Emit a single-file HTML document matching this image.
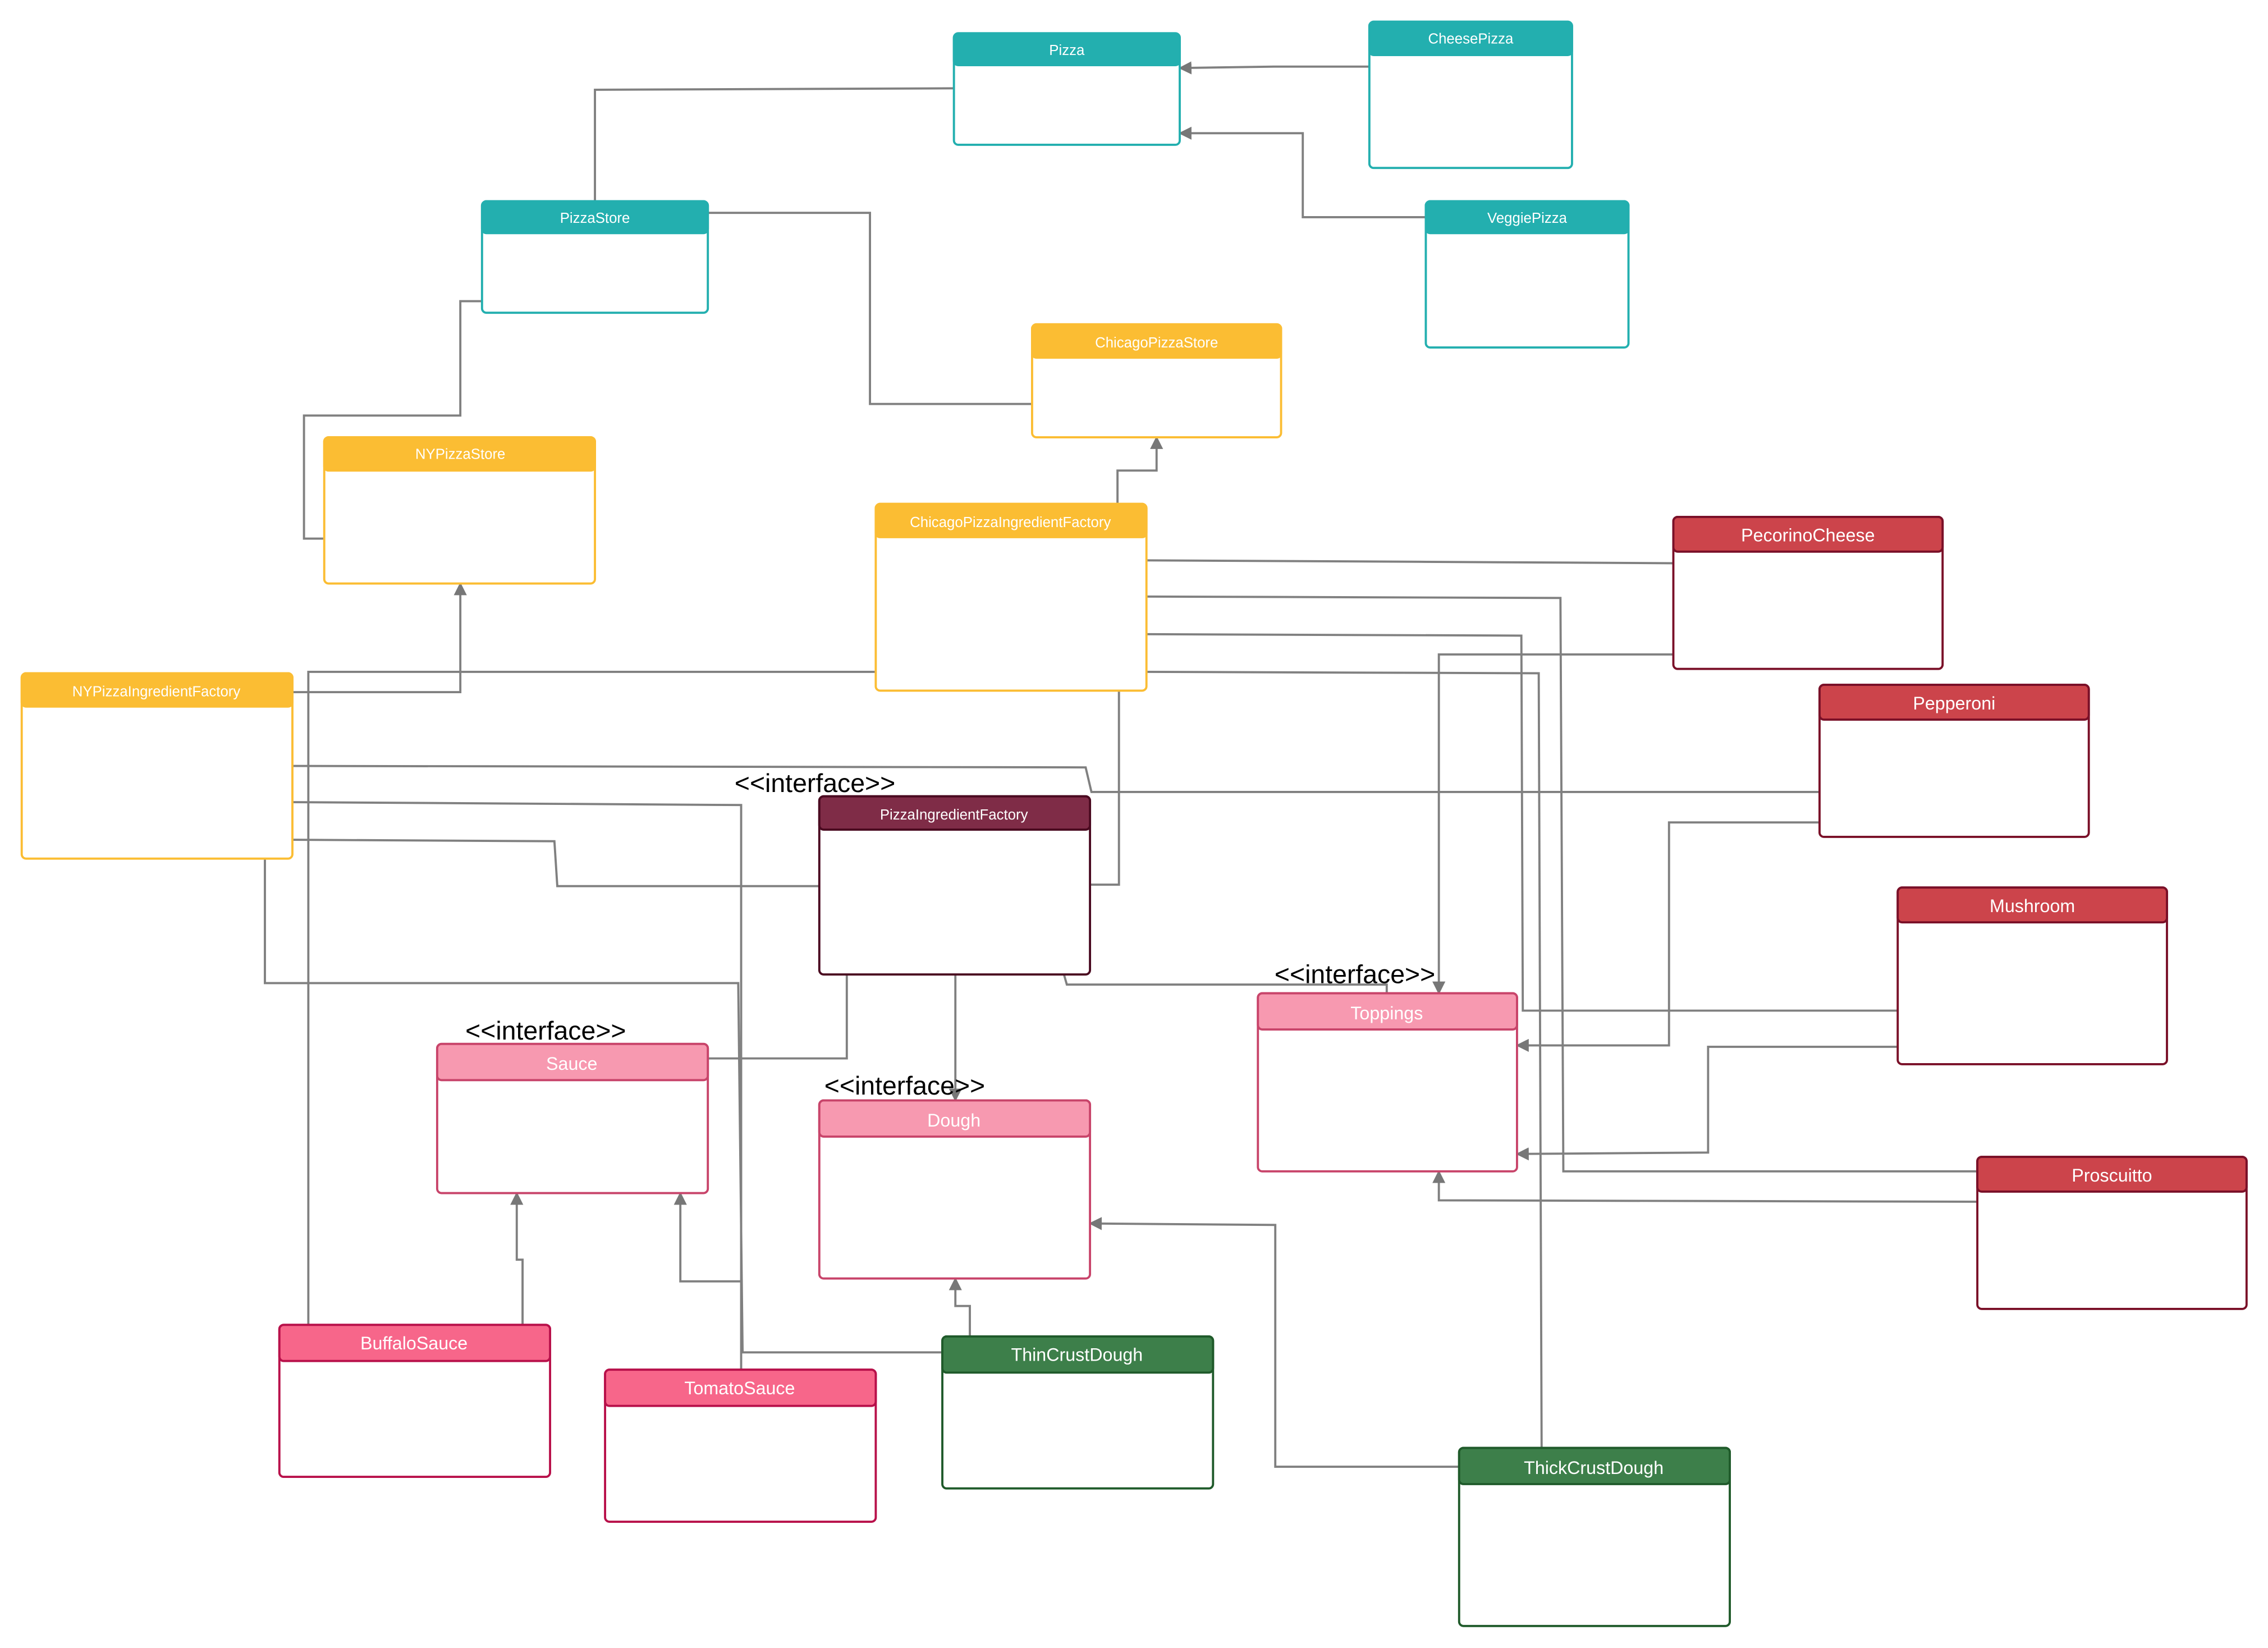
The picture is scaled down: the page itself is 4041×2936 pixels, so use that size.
<!DOCTYPE html>
<html><head><meta charset="utf-8"><style>
html,body{margin:0;padding:0;background:#fff;}
svg{display:block;}
text{font-family:"Liberation Sans",sans-serif;}
</style></head><body>
<svg width="4041" height="2936" viewBox="0 0 1566.8 1138.2" preserveAspectRatio="none" xmlns="http://www.w3.org/2000/svg">
<defs>
<marker id="a" viewBox="0 0 10 10" refX="9" refY="5" markerWidth="9" markerHeight="9" orient="auto" markerUnits="userSpaceOnUse">
<path d="M0,0 L10,5 L0,10 z" fill="#777"/></marker>
</defs>
<g fill="none" stroke="#808080" stroke-width="1.5">
<path d="M946,46 L880,46 L815,47" marker-end="url(#a)"/>
<path d="M985,150 L900,150 L900,92 L815,92" marker-end="url(#a)"/>
<path d="M659,61 L411,62 L411,139"/>
<path d="M489,147 L601,147 L601,279 L713,279"/>
<path d="M333,208 L318,208 L318,287 L210,287 L210,372 L224,372"/>
<path d="M772,348 L772,325 L799,325 L799,302" marker-end="url(#a)"/>
<path d="M202,478 L318,478 L318,403" marker-end="url(#a)"/>
<path d="M605,464 L213,464 L213,915"/>
<path d="M202,529 L750,530 L754,547 L1257,547"/>
<path d="M202,554 L512,556 L512,946"/>
<path d="M202,580 L383,581 L385,612 L566,612"/>
<path d="M183,593 L183,679 L510,679 L513,934 L651,934"/>
<path d="M773,477 L773,611 L753,611"/>
<path d="M792,387 L980,388 L1156,389"/>
<path d="M792,412 L1078,413 L1080,809 L1366,809"/>
<path d="M792,438 L1051,439 L1052,698 L1311,698"/>
<path d="M792,464 L1063,465 L1065,1000"/>
<path d="M1156,452 L994,452 L994,686" marker-end="url(#a)"/>
<path d="M1257,568 L1153,568 L1153,722 L1048,722" marker-end="url(#a)"/>
<path d="M1311,723 L1180,723 L1180,796 L1048,797" marker-end="url(#a)"/>
<path d="M1366,830 L994,829 L994,809" marker-end="url(#a)"/>
<path d="M735,673 L737,680 L958,680 L958,686"/>
<path d="M585,673 L585,731 L489,731"/>
<path d="M660,673 L660,760" marker-end="url(#a)"/>
<path d="M361,915 L361,870 L357,870 L357,824" marker-end="url(#a)"/>
<path d="M512,885 L470,885 L470,824" marker-end="url(#a)"/>
<path d="M670,923 L670,902 L660,902 L660,883" marker-end="url(#a)"/>
<path d="M1008,1013 L881,1013 L881,846 L753,845" marker-end="url(#a)"/>
</g>
<g id="nodes">
<g stroke="#23afaf" stroke-width="1.5">
<rect x="659" y="23" width="156" height="77" rx="3" fill="#fff"/><rect x="659" y="23" width="156" height="22" rx="3" fill="#23afaf"/>
<rect x="946" y="15" width="140" height="101" rx="3" fill="#fff"/><rect x="946" y="15" width="140" height="23" rx="3" fill="#23afaf"/>
<rect x="333" y="139" width="156" height="77" rx="3" fill="#fff"/><rect x="333" y="139" width="156" height="22" rx="3" fill="#23afaf"/>
<rect x="985" y="139" width="140" height="101" rx="3" fill="#fff"/><rect x="985" y="139" width="140" height="22" rx="3" fill="#23afaf"/>
</g>
<g stroke="#fbbd33" stroke-width="1.5">
<rect x="713" y="224" width="172" height="78" rx="3" fill="#fff"/><rect x="713" y="224" width="172" height="23" rx="3" fill="#fbbd33"/>
<rect x="224" y="302" width="187" height="101" rx="3" fill="#fff"/><rect x="224" y="302" width="187" height="23" rx="3" fill="#fbbd33"/>
<rect x="605" y="348" width="187" height="129" rx="3" fill="#fff"/><rect x="605" y="348" width="187" height="23" rx="3" fill="#fbbd33"/>
<rect x="15" y="465" width="187" height="128" rx="3" fill="#fff"/><rect x="15" y="465" width="187" height="23" rx="3" fill="#fbbd33"/>
</g>
<g stroke="#4a0a20" stroke-width="1.5">
<rect x="566" y="550" width="187" height="123" rx="3" fill="#fff"/><rect x="566" y="550" width="187" height="23" rx="3" fill="#7f2c47"/>
</g>
<g stroke="#7a1028" stroke-width="1.5">
<rect x="1156" y="357" width="186" height="105" rx="3" fill="#fff"/><rect x="1156" y="357" width="186" height="24" rx="3" fill="#cc444b"/>
<rect x="1257" y="473" width="186" height="105" rx="3" fill="#fff"/><rect x="1257" y="473" width="186" height="24" rx="3" fill="#cc444b"/>
<rect x="1311" y="613" width="186" height="122" rx="3" fill="#fff"/><rect x="1311" y="613" width="186" height="24" rx="3" fill="#cc444b"/>
<rect x="1366" y="799" width="186" height="105" rx="3" fill="#fff"/><rect x="1366" y="799" width="186" height="24" rx="3" fill="#cc444b"/>
</g>
<g stroke="#c8446a" stroke-width="1.5">
<rect x="869" y="686" width="179" height="123" rx="3" fill="#fff"/><rect x="869" y="686" width="179" height="25" rx="3" fill="#f799b0"/>
<rect x="302" y="721" width="187" height="103" rx="3" fill="#fff"/><rect x="302" y="721" width="187" height="25" rx="3" fill="#f799b0"/>
<rect x="566" y="760" width="187" height="123" rx="3" fill="#fff"/><rect x="566" y="760" width="187" height="25" rx="3" fill="#f799b0"/>
</g>
<g stroke="#b8104a" stroke-width="1.5">
<rect x="193" y="915" width="187" height="105" rx="3" fill="#fff"/><rect x="193" y="915" width="187" height="25" rx="3" fill="#f7668a"/>
<rect x="418" y="946" width="187" height="105" rx="3" fill="#fff"/><rect x="418" y="946" width="187" height="25" rx="3" fill="#f7668a"/>
</g>
<g stroke="#1f5a2a" stroke-width="1.5">
<rect x="651" y="923" width="187" height="105" rx="3" fill="#fff"/><rect x="651" y="923" width="187" height="25" rx="3" fill="#3d7f4a"/>
<rect x="1008" y="1000" width="187" height="123" rx="3" fill="#fff"/><rect x="1008" y="1000" width="187" height="25" rx="3" fill="#3d7f4a"/>
</g>
</g>
<g fill="#fff" text-anchor="middle" font-size="10">
<text x="737" y="38">Pizza</text>
<text x="1016" y="30">CheesePizza</text>
<text x="411" y="154">PizzaStore</text>
<text x="1055" y="154">VeggiePizza</text>
<text x="799" y="240">ChicagoPizzaStore</text>
<text x="318" y="317">NYPizzaStore</text>
<text x="698" y="364">ChicagoPizzaIngredientFactory</text>
<text x="108" y="481">NYPizzaIngredientFactory</text>
<text x="659" y="566">PizzaIngredientFactory</text>
</g>
<g fill="#fff" text-anchor="middle" font-size="12.5">
<text x="1249" y="374">PecorinoCheese</text>
<text x="1350" y="490">Pepperoni</text>
<text x="1404" y="630">Mushroom</text>
<text x="1459" y="816">Proscuitto</text>
<text x="958" y="704">Toppings</text>
<text x="395" y="739">Sauce</text>
<text x="659" y="778">Dough</text>
<text x="286" y="932">BuffaloSauce</text>
<text x="511" y="963">TomatoSauce</text>
<text x="744" y="940">ThinCrustDough</text>
<text x="1101" y="1018">ThickCrustDough</text>
</g>
<g fill="#000" text-anchor="middle" font-size="18">
<text x="563" y="547">&lt;&lt;interface&gt;&gt;</text>
<text x="936" y="679">&lt;&lt;interface&gt;&gt;</text>
<text x="377" y="718">&lt;&lt;interface&gt;&gt;</text>
<text x="625" y="756">&lt;&lt;interface&gt;&gt;</text>
</g>
</svg>
</body></html>
